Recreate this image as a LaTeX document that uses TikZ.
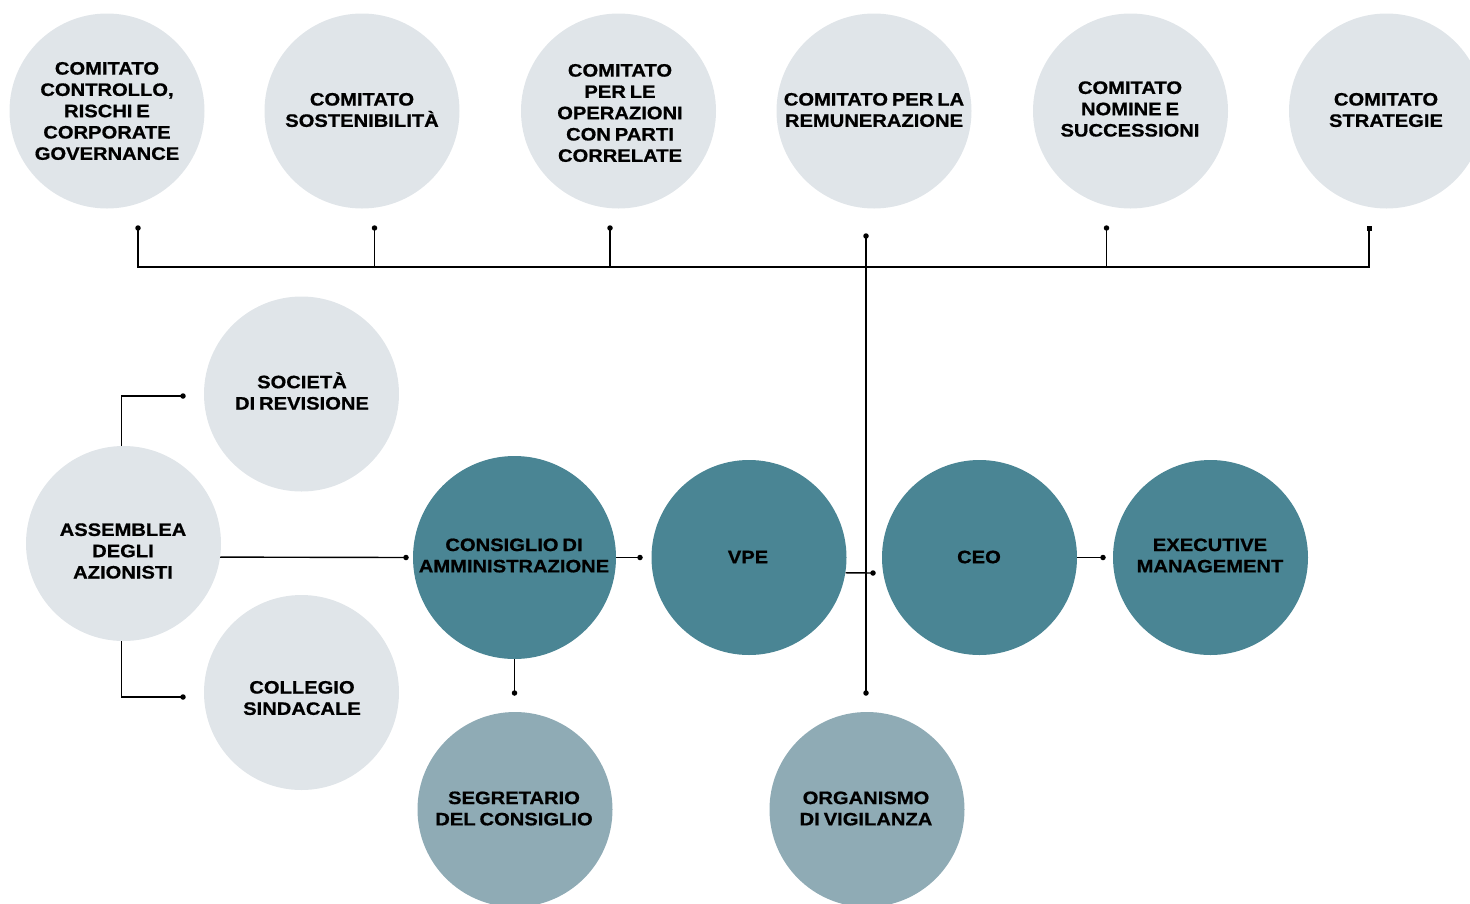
\documentclass[tikz,border=0pt]{standalone}
\usepackage{fontspec}
\newfontfamily\labfont[FakeStretch=1.12,WordSpace=0.7,FakeBold=0.8]{Liberation Sans Bold}
\definecolor{cLight}{RGB}{224,229,233}
\definecolor{cTeal}{RGB}{74,133,148}
\definecolor{cSlate}{RGB}{143,171,181}
\begin{document}
\begin{tikzpicture}[x=1pt,y=-1pt,
 circ/.style={circle, minimum size=195pt, inner sep=0pt, draw=none},
 light/.style={circ, fill=cLight},
 tealc/.style={circ, fill=cTeal},
 slate/.style={circ, fill=cSlate},
 txt/.style={align=center, font=\labfont\fontsize{18}{21.3}\selectfont, inner sep=0pt, text=black},
 conn/.style={line width=1.4pt, black},
 dotc/.style={circle, fill=black, inner sep=0pt, minimum size=5.5pt},
 dots/.style={rectangle, fill=black, inner sep=0pt, minimum size=5pt}]
\useasboundingbox (0,0) rectangle (1470,903);
\clip (0,0) rectangle (1470,903);

% top row
\node[light] (c1) at (107,111) {};
\node[light] (c2) at (362,111) {};
\node[light] (c3) at (618.5,111) {};
\node[light] (c4) at (874,111) {};
\node[light] (c5) at (1130.5,111) {};
\node[light] (c6) at (1386.5,111) {};
\node[txt] (t1) at (107,111) {COMITATO\\CONTROLLO,\\RISCHI E\\CORPORATE\\GOVERNANCE};
\node[txt] (t2) at (362,110) {COMITATO\\SOSTENIBILITÀ};
\node[txt] (t3) at (620,113) {COMITATO\\PER LE\\OPERAZIONI\\CON PARTI\\CORRELATE};
\node[txt] (t4) at (874,110) {COMITATO PER LA\\REMUNERAZIONE};
\node[txt] (t5) at (1130,109) {COMITATO\\NOMINE E\\SUCCESSIONI};
\node[txt] (t6) at (1386,110) {COMITATO\\STRATEGIE};

% left group
\node[light] (ass) at (123.5,543.5) {};
\node[light] (soc) at (301.5,394) {};
\node[light] (col) at (301.5,692.5) {};
\node[txt] at (123,551) {ASSEMBLEA\\DEGLI\\AZIONISTI};
\node[txt] at (302,391) {SOCIETÀ\\DI REVISIONE};
\node[txt] at (302,698) {COLLEGIO\\SINDACALE};

% middle row
\node[tealc, minimum size=203pt] (cons) at (514.5,557.5) {};
\node[tealc] (vpe) at (749,557.5) {};
\node[tealc] (ceo) at (979.5,557.5) {};
\node[tealc] (exe) at (1210.5,557.5) {};
\node[txt] at (514,555.5) {CONSIGLIO DI\\AMMINISTRAZIONE};
\node[txt] at (748,557) {VPE};
\node[txt] at (979,557) {CEO};
\node[txt] at (1210,555.5) {EXECUTIVE\\MANAGEMENT};

% bottom row
\node[slate] (seg) at (515,809.5) {};
\node[slate] (org) at (867,809.5) {};
\node[txt] at (514,808.5) {SEGRETARIO\\DEL CONSIGLIO};
\node[txt] at (866,808.5) {ORGANISMO\\DI VIGILANZA};

% coordinates
\coordinate (h) at (0,267);
\coordinate (s1) at (138,228);
\coordinate (s2) at (374.5,228);
\coordinate (s3) at (610,228);
\coordinate (s4) at (866,236);
\coordinate (s5) at (1106.5,228);
\coordinate (s6) at (1369,228);
\coordinate (ov) at (866,693);
\coordinate (vb) at (873,573);
\coordinate (cv) at (640,557.5);
\coordinate (ce) at (1103,557.5);
\coordinate (cs) at (514.5,693);
\coordinate (ac) at (406,557.5);
\coordinate (as) at (183,396);
\coordinate (acol) at (183,697);

% connectors
\draw[conn] (s1) |- (s6 |- h) -- (s6);
\draw[conn] (s2) -- (s2 |- h);
\draw[conn] (s3) -- (s3 |- h);
\draw[conn] (s5) -- (s5 |- h);
\draw[conn] (s4) -- (ov);
\draw[conn] (vpe.-9) -- (vb);
\draw[conn] (cons.east) -- (cv);
\draw[conn] (ceo.east) -- (ce);
\draw[conn] (cons.south) -- (cs);
\draw[conn] (ass.-8) -- (ac);
\draw[conn] (ass.91.5) |- (as);
\draw[conn] (ass.-91.5) |- (acol);

% dots
\foreach \p in {s1,s2,s3,s4,s5,ov,vb,cv,ce,cs,ac,as,acol}
  \node[dotc] at (\p) {};
\node[dots] at (s6) {};
\end{tikzpicture}
\end{document}
